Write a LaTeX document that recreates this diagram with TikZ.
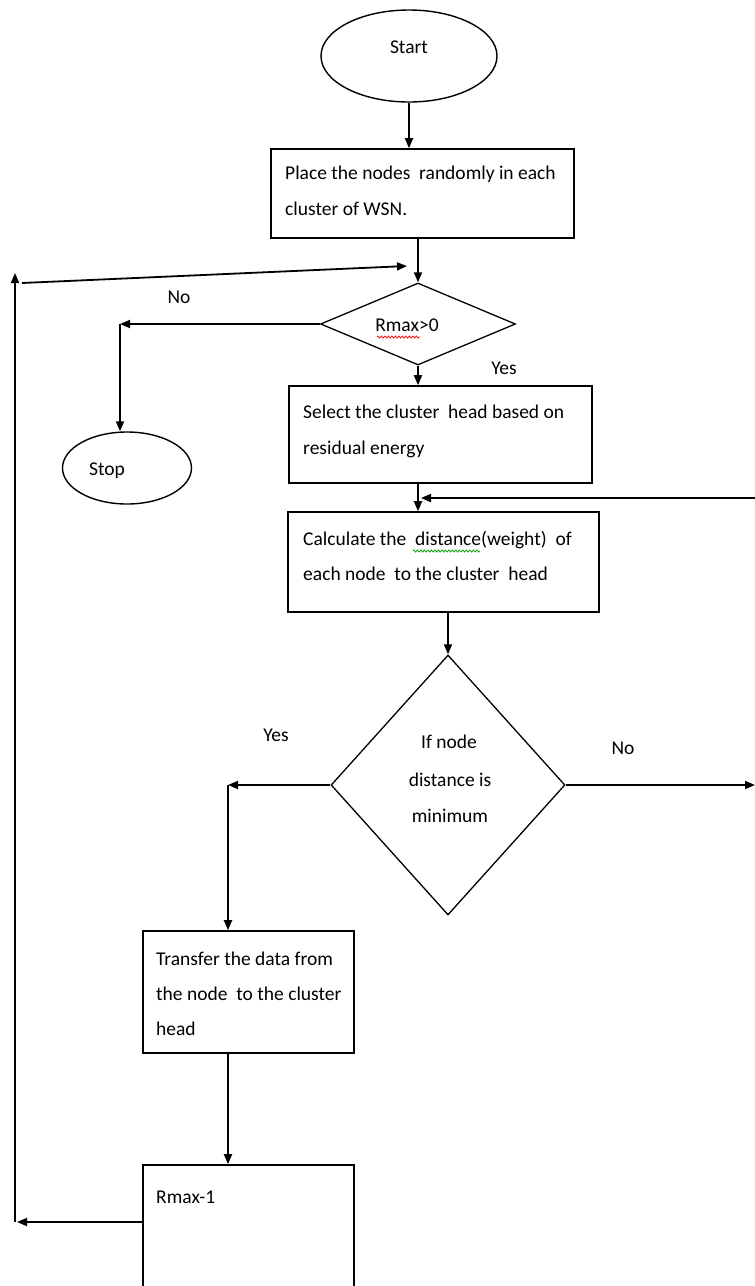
\documentclass[tikz,border=0pt]{standalone}
\usepackage{fontspec}
\setmainfont{Carlito}
\usetikzlibrary{shapes.geometric,arrows.meta,decorations.pathmorphing}
\tikzset{
  boxn/.style={draw, line width=1.6pt, rectangle, inner sep=0pt},
  ovaln/.style={draw, line width=1.4pt, ellipse, inner sep=0pt},
  diam/.style={draw, line width=1.3pt, diamond, inner sep=0pt},
  conn/.style={line width=1.8pt},
  arr/.style={line width=1.8pt, -{Triangle[length=10pt,width=8pt]}},
  txt/.style={anchor=base west, inner sep=0pt, font=\fontsize{19.5}{24}\selectfont},
  ctxt/.style={anchor=base, inner sep=0pt, font=\fontsize{19.5}{24}\selectfont},
  squig/.style={decorate, decoration={zigzag, segment length=3.5pt, amplitude=1.1pt}, line width=0.7pt}
}
\begin{document}
\begin{tikzpicture}[x=1pt,y=-1pt]
\useasboundingbox (0,0) rectangle (755,1286);
% shapes
\node[ovaln, minimum width=176pt, minimum height=92pt] (start) at (409,56) {};
\node[boxn, minimum width=303pt, minimum height=89pt] (b1) at (422.5,193.5) {};
\node[diam, minimum width=195pt, minimum height=82pt] (d1) at (418,324) {};
\node[ovaln, minimum width=129pt, minimum height=72pt] (stop) at (127,468) {};
\node[boxn, minimum width=303pt, minimum height=97pt] (b2) at (440.5,434.5) {};
\node[boxn, minimum width=311pt, minimum height=100pt] (b3) at (443.5,562) {};
\node[diam, minimum width=234pt, minimum height=260pt] (d2) at (448,785) {};
\node[boxn, minimum width=211pt, minimum height=122pt] (b4) at (248.5,992) {};
\node[boxn, minimum width=211pt, minimum height=155pt] (b5) at (248.5,1242.5) {};
% texts
\node[ctxt] (tstart) at (409,53) {Start};
\node[txt] (t1a) at (285,179) {Place the nodes~ randomly in each};
\node[txt] (t1b) at (285,215) {cluster of WSN.};
\node[ctxt] (td1) at (407,331) {Rmax>0};
\node[ctxt] (tstop) at (107,475) {Stop};
\node[txt] (t2a) at (303,418) {Select the cluster~ head based on};
\node[txt] (t2b) at (303,454) {residual energy};
\node[txt] (t3a) at (303,545) {Calculate the~ distance(weight)~ of};
\node[txt] (t3b) at (303,580) {each node~ to the cluster~ head};
\node[ctxt] (td2a) at (449,748) {If node};
\node[ctxt] (td2b) at (450,786) {distance is};
\node[ctxt] (td2c) at (450,822) {minimum};
\node[txt] (t4a) at (156,965) {Transfer the data from};
\node[txt] (t4b) at (156,1000) {the node~ to the cluster};
\node[txt] (t4c) at (156,1035) {head};
\node[txt] (t5) at (156,1203) {Rmax-1};
% labels
\node[ctxt] (lno1) at (179,303) {No};
\node[ctxt] (lyes1) at (504,374) {Yes};
\node[ctxt] (lyes2) at (276,741) {Yes};
\node[ctxt] (lno2) at (623,754) {No};
% squiggles
\draw[squig, red] (377,337) -- (420,337);
\draw[squig, green!60!black] (413,551) -- (480,551);
% coordinates
\coordinate (nc) at (120,324);
\coordinate (yc) at (228,785);
\coordinate (rc) at (755,785);
\coordinate (rt) at (755,498);
\coordinate (lb) at (15,1222);
\coordinate (lt) at (15,273);
\coordinate (ls) at (22,283);
\coordinate (tipA) at (407,266);
% connectors
\draw[arr] (start.south) -- (start.south |- b1.north);
\draw[arr] (d1.north |- b1.south) -- (d1.north);
\draw[arr] (d1.west) -- (nc);
\draw[arr] (nc) -- (nc |- stop.north);
\draw[arr] (d1.south) -- (d1.south |- b2.north);
\draw[arr] (d1.south |- b2.south) -- (d1.south |- b3.north);
\draw[arr] (rt) -- ([xshift=3pt]d1.south |- rt);
\draw[arr] (d2.north |- b3.south) -- (d2.north);
\draw[arr] (d2.west) -- (yc);
\draw[arr] (yc) -- (yc |- b4.north);
\draw[arr] (d2.east) -- (rc);
\draw[arr] (yc |- b4.south) -- (yc |- b5.north);
\draw[arr] (b5.west |- lb) -- ([xshift=2pt]lb);
\draw[arr] (lb) -- (lt);
\draw[arr] (ls) -- (tipA);
\end{tikzpicture}
\end{document}
